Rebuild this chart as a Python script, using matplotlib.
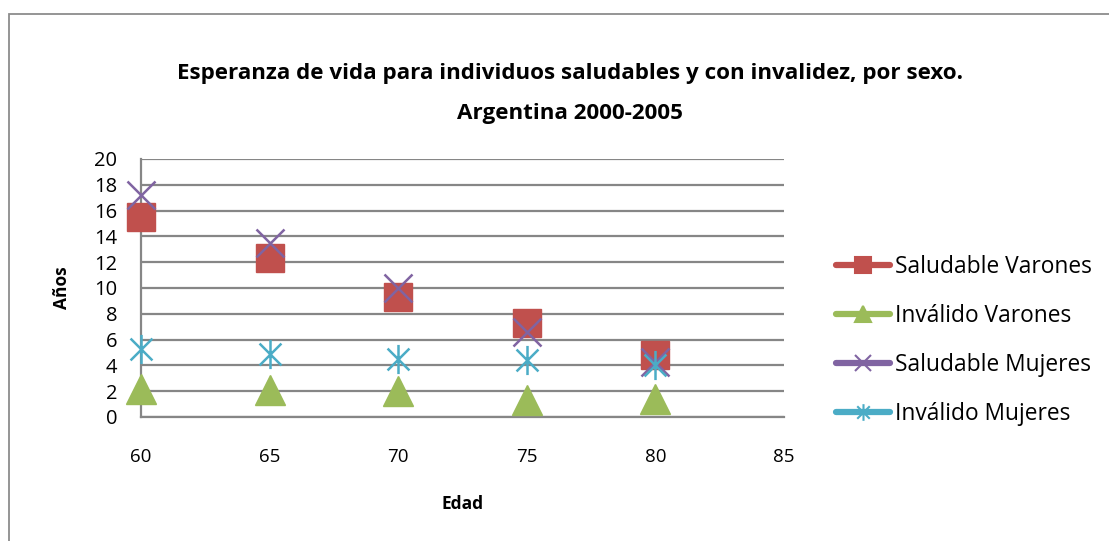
import matplotlib
matplotlib.use("Agg")
import matplotlib.pyplot as plt
from matplotlib.lines import Line2D
from matplotlib.path import Path
from matplotlib.patches import Rectangle

edad = [60, 65, 70, 75, 80]
saludable_varones = [15.5, 12.3, 9.3, 7.3, 4.8]
invalido_varones = [2.2, 2.1, 2.0, 1.3, 1.4]
saludable_mujeres = [17.2, 13.5, 10.0, 6.6, 4.3]
invalido_mujeres = [5.3, 4.9, 4.5, 4.4, 4.0]

series_names = ["Saludable Varones", "Inválido Varones", "Saludable Mujeres", "Inválido Mujeres"]
colors = ["#C0504D", "#9BBB59", "#8064A2", "#4BACC6"]

xticks = [60, 65, 70, 75, 80, 85]
yticks = list(range(0, 21, 2))

plt.rcParams['font.family'] = ['Open Sans', 'DejaVu Sans']

asterisk = Path([(0, -1), (0, 1), (-0.75, -0.75), (0.75, 0.75), (-0.75, 0.75), (0.75, -0.75)],
                [Path.MOVETO, Path.LINETO, Path.MOVETO, Path.LINETO, Path.MOVETO, Path.LINETO])

fig = plt.figure(figsize=(11.09, 5.41), dpi=100)
# outer chart border
fig.patches.append(Rectangle((9 / 1109, -0.1), 1.2, 1 - 14 / 541 + 0.1, transform=fig.transFigure,
                             fill=False, edgecolor="#8C8C8C", linewidth=1.3, zorder=0))

ax = fig.add_axes([141 / 1109, 1 - 417 / 541, (784 - 141) / 1109, (417 - 159) / 541])
ax.set_xlim(60, 85)
ax.set_ylim(0, 20)
ax.set_yticks(yticks)
ax.set_xticks(xticks)
ax.yaxis.grid(True, color="#868686", linewidth=1.6)
ax.set_axisbelow(True)
for s in ["top", "right"]:
    ax.spines[s].set_visible(False)
for s in ["left", "bottom"]:
    ax.spines[s].set_color("#868686")
    ax.spines[s].set_linewidth(1.6)
ax.tick_params(axis="y", length=0, pad=17, labelsize=14.5)
ax.tick_params(axis="x", length=0, pad=22, labelsize=13.5)

ms = 20
ax.plot(edad, saludable_varones, linestyle="none", marker="s", markersize=ms,
        color=colors[0], markeredgecolor=colors[0], clip_on=False, zorder=3)
ax.plot(edad, invalido_varones, linestyle="none", marker="^", markersize=ms + 2,
        color=colors[1], markeredgecolor=colors[1], clip_on=False, zorder=3)
ax.plot(edad, saludable_mujeres, linestyle="none", marker="x", markersize=ms, markeredgewidth=1.8,
        color=colors[2], clip_on=False, zorder=4)
ax.plot(edad, invalido_mujeres, linestyle="none", marker=asterisk, markersize=ms + 1, markeredgewidth=1.8,
        color=colors[3], clip_on=False, zorder=5)

ax.set_xlabel("Edad", fontsize=12.5, fontweight="bold", labelpad=21)
ax.set_ylabel("Años", fontsize=12.5, fontweight="bold", labelpad=17)

fig.text(570 / 1109, 1 - 74 / 541, "Esperanza de vida para individuos saludables y con invalidez, por sexo.",
         ha="center", va="center", fontsize=16.1, fontweight="bold")
fig.text(570 / 1109, 1 - 113 / 541, "Argentina 2000-2005",
         ha="center", va="center", fontsize=16.1, fontweight="bold")

markers_leg = ["s", "^", "x", asterisk]
handles = []
for name, c, m in zip(series_names, colors, markers_leg):
    handles.append(Line2D([0], [0], color=c, linewidth=4.5, marker=m, markersize=12,
                          markeredgewidth=1.5, markeredgecolor=c, markerfacecolor=c,
                          solid_capstyle="round"))
fig.legend(handles, series_names, loc="center left", bbox_to_anchor=(815 / 1109, 1 - 340.5 / 541),
           frameon=False, fontsize=16.4, handlelength=2.4, handletextpad=0.2, labelspacing=1.09)

fig.savefig("out.png", dpi=100)
